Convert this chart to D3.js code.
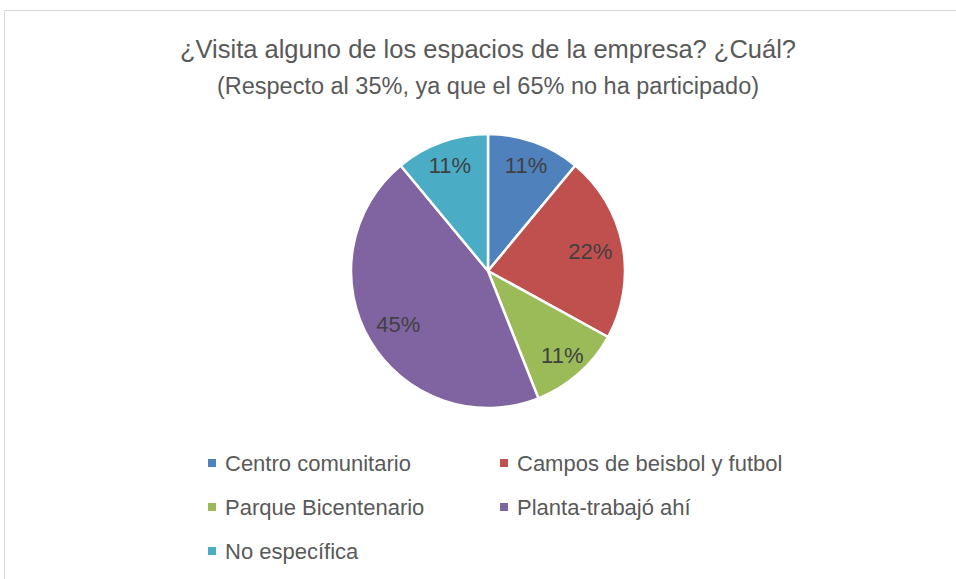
<!DOCTYPE html>
<html>
<head>
<meta charset="utf-8">
<script src="https://cdn.jsdelivr.net/npm/d3@7"></script>
<style>
  body { margin: 0; background: #fff; }
</style>
</head>
<body>
<div id="chart"></div>
<script>
var width = 956, height = 579

const categories = ["Centro comunitario", "Campos de beisbol y futbol", "Parque Bicentenario", "Planta-trabajó ahí", "No específica"]
const values = [0.11, 0.22, 0.11, 0.45, 0.11]
const colors = ["#4F81BD", "#C0504D", "#9BBB59", "#8064A2", "#4BACC6"]
const title = "¿Visita alguno de los espacios de la empresa? ¿Cuál?"
const subtitle = "(Respecto al 35%, ya que el 65% no ha participado)"

const font = "'Liberation Sans', Arial, sans-serif"

const svg = d3.select('#chart')
	.append('svg')
	.attr('width', width)
	.attr('height', height)
	.style('font-family', font)

// chart area border
svg.append('rect')
	.attr('x', 4.5).attr('y', 10.5)
	.attr('width', 960).attr('height', 600)
	.attr('fill', '#fff')
	.attr('stroke', '#d9d9d9')

svg.append('text')
	.attr('x', 488).attr('y', 58)
	.attr('text-anchor', 'middle')
	.attr('fill', '#595959')
	.style('font-size', '25.5px')
	.text(title)

svg.append('text')
	.attr('x', 488).attr('y', 94)
	.attr('text-anchor', 'middle')
	.attr('fill', '#595959')
	.style('font-size', '23.5px')
	.text(subtitle)

var radius = 137
var cx = 488, cy = 271

const pie = d3.pie().sort(null).value(d => d)
const arcs = pie(values)

const arc = d3.arc().innerRadius(0).outerRadius(radius)
// small slices get their label pushed a bit further out, like excel does
const labelArc = d3.arc()
	.innerRadius(d => radius * (d.data < 0.2 ? 0.82 : 0.76))
	.outerRadius(d => radius * (d.data < 0.2 ? 0.82 : 0.76))

const g = svg.append('g').attr('transform', `translate(${cx},${cy})`)

g.selectAll('path')
	.data(arcs)
	.join('path')
	.attr('d', arc)
	.attr('fill', (d, i) => colors[i])
	.attr('stroke', '#fff')
	.attr('stroke-width', 2.5)
	.attr('stroke-linejoin', 'round')

const format = d3.format('.0%')

g.selectAll('text')
	.data(arcs)
	.join('text')
	.attr('transform', d => `translate(${labelArc.centroid(d)})`)
	.attr('text-anchor', 'middle')
	.attr('dy', '0.35em')
	.attr('fill', '#404040')
	.style('font-size', '22px')
	.text(d => format(d.data))

// legend, two columns
const legend = svg.append('g')
	.selectAll('g')
	.data(categories)
	.join('g')
	.attr('transform', (d, i) => `translate(${i % 2 ? 500 : 208},${463 + Math.floor(i / 2) * 44})`)

legend.append('rect')
	.attr('x', 0).attr('y', -4)
	.attr('width', 8).attr('height', 8)
	.attr('fill', (d, i) => colors[i])

legend.append('text')
	.attr('x', 17)
	.attr('dy', '0.35em')
	.attr('fill', '#595959')
	.style('font-size', '22px')
	.text(d => d)
</script>
</body>
</html>
